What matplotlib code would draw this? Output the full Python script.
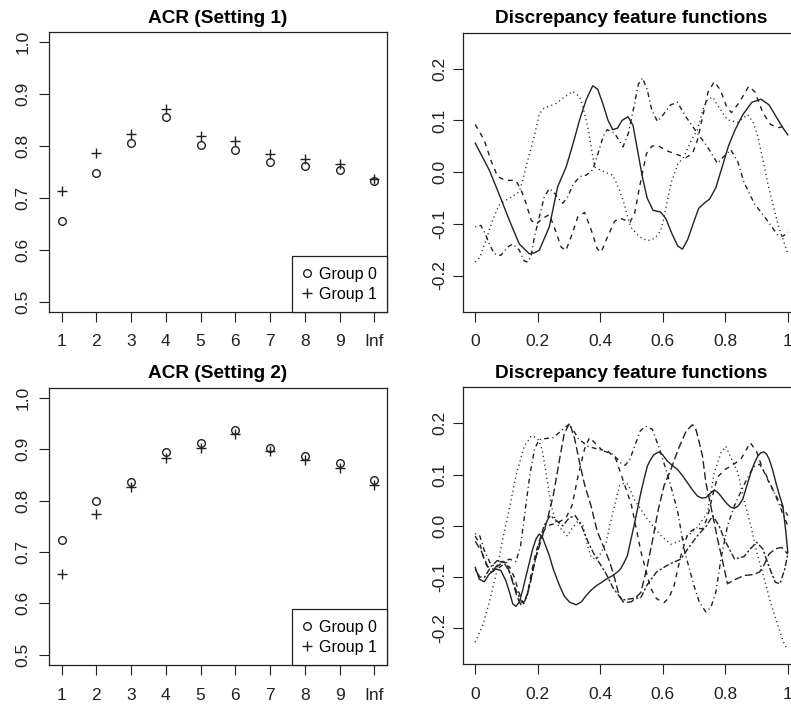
import numpy as np
import matplotlib
matplotlib.use("Agg")
import matplotlib.pyplot as plt

plt.rcParams['font.family'] = ['Liberation Sans', 'DejaVu Sans']

# ---- ACR panels ----
k_pos = list(range(1, 11))
k_labels = ['1', '2', '3', '4', '5', '6', '7', '8', '9', 'Inf']

acr1_g0 = [0.655, 0.749, 0.806, 0.856, 0.803, 0.793, 0.770, 0.761, 0.753, 0.732]
acr1_g1 = [0.713, 0.787, 0.824, 0.871, 0.819, 0.809, 0.785, 0.775, 0.765, 0.736]
acr2_g0 = [0.724, 0.799, 0.837, 0.894, 0.912, 0.938, 0.903, 0.887, 0.874, 0.840]
acr2_g1 = [0.658, 0.774, 0.826, 0.882, 0.902, 0.930, 0.896, 0.878, 0.864, 0.831]

# ---- discrepancy feature functions, setting 1 (x, y) ----
s1_solid = [(0, 0.056), (0.045, 0.004), (0.082, -0.051), (0.109, -0.093), (0.141, -0.139),
            (0.173, -0.158), (0.19, -0.156), (0.205, -0.151), (0.237, -0.106), (0.264, -0.028),
            (0.291, 0.01), (0.313, 0.055), (0.334, 0.101), (0.355, 0.14), (0.376, 0.167),
            (0.392, 0.16), (0.408, 0.133), (0.425, 0.1), (0.44, 0.082), (0.455, 0.085),
            (0.47, 0.1), (0.489, 0.107), (0.505, 0.09), (0.52, 0.04), (0.535, -0.01),
            (0.55, -0.05), (0.569, -0.074), (0.593, -0.077), (0.61, -0.09), (0.63, -0.12),
            (0.648, -0.143), (0.663, -0.149), (0.68, -0.13), (0.7, -0.095), (0.715, -0.07),
            (0.733, -0.06), (0.75, -0.052), (0.77, -0.03), (0.79, 0.01), (0.81, 0.05),
            (0.83, 0.08), (0.855, 0.11), (0.885, 0.135), (0.914, 0.141), (0.94, 0.13),
            (0.965, 0.105), (0.985, 0.085), (1.0, 0.072)]
s1_dashed = [(0, 0.092), (0.029, 0.062), (0.05, 0.023), (0.072, -0.009), (0.098, -0.016),
             (0.13, -0.016), (0.147, -0.035), (0.163, -0.061), (0.179, -0.093), (0.195, -0.101),
             (0.215, -0.09), (0.237, -0.082), (0.255, -0.11), (0.275, -0.145), (0.29, -0.152),
             (0.31, -0.12), (0.328, -0.087), (0.35, -0.078), (0.37, -0.11), (0.39, -0.148),
             (0.403, -0.155), (0.42, -0.13), (0.446, -0.095), (0.462, -0.089), (0.48, -0.093),
             (0.495, -0.097), (0.51, -0.08), (0.526, -0.028), (0.548, 0.036), (0.565, 0.05),
             (0.583, 0.052), (0.61, 0.042), (0.636, 0.036), (0.674, 0.028), (0.695, 0.036),
             (0.711, 0.062), (0.725, 0.1), (0.745, 0.155), (0.765, 0.175), (0.785, 0.158),
             (0.805, 0.125), (0.82, 0.115), (0.845, 0.135), (0.875, 0.166), (0.895, 0.155),
             (0.92, 0.115), (0.945, 0.092), (0.97, 0.086), (1.0, 0.09)]
s1_dotted = [(0, -0.174), (0.015, -0.165), (0.034, -0.132), (0.056, -0.093), (0.075, -0.065),
             (0.088, -0.058), (0.114, -0.049), (0.141, -0.038), (0.152, -0.016), (0.168, 0.023),
             (0.189, 0.069), (0.205, 0.112), (0.22, 0.124), (0.24, 0.128), (0.259, 0.133),
             (0.285, 0.145), (0.312, 0.156), (0.334, 0.146), (0.347, 0.12), (0.36, 0.088),
             (0.372, 0.045), (0.382, 0.01), (0.4, 0.004), (0.419, -0.001), (0.44, -0.006),
             (0.455, -0.025), (0.473, -0.054), (0.497, -0.106), (0.525, -0.125), (0.551, -0.133),
             (0.575, -0.128), (0.594, -0.113), (0.61, -0.07), (0.626, -0.022), (0.648, 0.015),
             (0.668, 0.03), (0.69, 0.06), (0.711, 0.082), (0.728, 0.12), (0.743, 0.14),
             (0.76, 0.145), (0.78, 0.125), (0.807, 0.101), (0.839, 0.096), (0.872, 0.111),
             (0.89, 0.095), (0.904, 0.069), (0.92, 0.025), (0.936, -0.022), (0.968, -0.1),
             (1.0, -0.158)]
s1_dotdash = [(0, -0.106), (0.018, -0.103), (0.034, -0.122), (0.045, -0.139), (0.061, -0.158),
              (0.082, -0.161), (0.104, -0.145), (0.12, -0.139), (0.141, -0.151), (0.157, -0.172),
              (0.168, -0.174), (0.179, -0.162), (0.189, -0.126), (0.205, -0.087), (0.221, -0.048),
              (0.237, -0.032), (0.25, -0.038), (0.265, -0.05), (0.28, -0.06), (0.296, -0.048),
              (0.312, -0.025), (0.334, -0.009), (0.355, -0.006), (0.376, 0.004), (0.395, 0.04),
              (0.41, 0.07), (0.422, 0.082), (0.446, 0.075), (0.473, 0.049), (0.49, 0.075),
              (0.508, 0.127), (0.522, 0.17), (0.535, 0.182), (0.55, 0.16), (0.565, 0.12),
              (0.583, 0.098), (0.6, 0.11), (0.625, 0.13), (0.647, 0.135), (0.674, 0.107),
              (0.711, 0.075), (0.743, 0.049), (0.775, 0.017), (0.795, 0.03), (0.818, 0.043),
              (0.84, 0.02), (0.86, -0.02), (0.893, -0.061), (0.93, -0.09), (0.968, -0.122),
              (0.985, -0.124), (1.0, -0.116)]

# ---- discrepancy feature functions, setting 2 (x, y) ----
s2_solid = [(0, -0.081), (0.013, -0.104), (0.029, -0.109), (0.045, -0.094), (0.066, -0.084),
            (0.082, -0.087), (0.098, -0.107), (0.11, -0.13), (0.12, -0.152), (0.13, -0.157),
            (0.141, -0.149), (0.152, -0.125), (0.163, -0.097), (0.174, -0.07), (0.184, -0.045),
            (0.195, -0.025), (0.205, -0.016), (0.215, -0.022), (0.226, -0.04), (0.237, -0.058),
            (0.25, -0.085), (0.27, -0.117), (0.285, -0.137), (0.302, -0.149), (0.323, -0.154),
            (0.34, -0.148), (0.355, -0.136), (0.37, -0.126), (0.387, -0.117), (0.405, -0.11),
            (0.419, -0.104), (0.44, -0.097), (0.455, -0.09), (0.465, -0.084), (0.476, -0.072),
            (0.487, -0.058), (0.497, -0.03), (0.508, 0.0), (0.52, 0.035), (0.53, 0.065),
            (0.541, 0.093), (0.551, 0.117), (0.562, 0.13), (0.572, 0.139), (0.588, 0.144),
            (0.6, 0.138), (0.615, 0.126), (0.63, 0.118), (0.647, 0.11), (0.663, 0.098),
            (0.679, 0.084), (0.695, 0.07), (0.711, 0.058), (0.725, 0.054), (0.738, 0.055),
            (0.752, 0.063), (0.765, 0.07), (0.776, 0.065), (0.786, 0.058), (0.797, 0.049),
            (0.807, 0.042), (0.818, 0.036), (0.829, 0.034), (0.842, 0.039), (0.856, 0.052),
            (0.87, 0.08), (0.882, 0.104), (0.893, 0.122), (0.904, 0.136), (0.913, 0.142),
            (0.923, 0.144), (0.932, 0.14), (0.941, 0.129), (0.952, 0.108), (0.962, 0.084),
            (0.973, 0.06), (0.984, 0.039), (0.994, -0.013), (1.0, -0.052)]
s2_dotted = [(0, -0.227), (0.024, -0.194), (0.045, -0.149), (0.066, -0.097), (0.088, -0.026),
             (0.109, 0.032), (0.13, 0.097), (0.157, 0.155), (0.179, 0.175), (0.195, 0.172),
             (0.205, 0.165), (0.215, 0.145), (0.225, 0.11), (0.235, 0.07), (0.245, 0.035),
             (0.259, 0.006), (0.28, -0.01), (0.295, -0.02), (0.31, -0.005), (0.33, 0.01),
             (0.345, 0.0), (0.36, -0.04), (0.371, -0.062), (0.385, -0.065), (0.398, -0.058),
             (0.419, -0.032), (0.435, 0.013), (0.451, 0.052), (0.462, 0.078), (0.478, 0.084),
             (0.49, 0.08), (0.508, 0.052), (0.551, 0.013), (0.594, -0.019), (0.626, -0.036),
             (0.668, -0.026), (0.711, -0.003), (0.743, 0.026), (0.765, 0.104), (0.786, 0.142),
             (0.802, 0.155), (0.82, 0.13), (0.84, 0.104), (0.86, 0.05), (0.882, 0.0),
             (0.9, -0.05), (0.925, -0.104), (0.945, -0.15), (0.968, -0.194), (0.99, -0.233),
             (1.0, -0.24)]
s2_longdash = [(0, -0.03), (0.02, -0.05), (0.04, -0.08), (0.06, -0.085), (0.08, -0.07),
               (0.1, -0.072), (0.12, -0.11), (0.135, -0.14), (0.147, -0.155), (0.16, -0.145),
               (0.175, -0.115), (0.19, -0.07), (0.21, -0.03), (0.23, 0.01), (0.25, 0.06),
               (0.27, 0.13), (0.285, 0.18), (0.302, 0.2), (0.318, 0.17), (0.335, 0.12),
               (0.35, 0.08), (0.37, 0.04), (0.39, -0.01), (0.41, -0.04), (0.43, -0.07),
               (0.445, -0.1), (0.46, -0.135), (0.475, -0.15), (0.5, -0.148), (0.53, -0.13),
               (0.55, -0.08), (0.57, -0.02), (0.585, 0.03), (0.604, 0.078), (0.626, 0.11),
               (0.65, 0.15), (0.675, 0.185), (0.695, 0.197), (0.706, 0.188), (0.717, 0.162),
               (0.727, 0.136), (0.738, 0.084), (0.749, 0.052), (0.76, 0.02), (0.775, -0.025),
               (0.79, -0.065), (0.807, -0.113), (0.83, -0.105), (0.86, -0.097), (0.89, -0.095),
               (0.91, -0.09), (0.925, -0.075), (0.94, -0.055), (0.96, -0.045), (0.98, -0.042),
               (1.0, -0.055)]
s2_dashed = [(0, -0.02), (0.015, -0.035), (0.03, -0.07), (0.05, -0.09), (0.07, -0.085),
             (0.09, -0.075), (0.11, -0.08), (0.125, -0.1), (0.14, -0.13), (0.155, -0.152),
             (0.168, -0.13), (0.18, -0.09), (0.195, -0.05), (0.21, -0.02), (0.23, 0.0),
             (0.26, 0.005), (0.29, 0.015), (0.31, 0.04), (0.33, 0.1), (0.35, 0.15),
             (0.366, 0.172), (0.385, 0.16), (0.405, 0.148), (0.425, 0.145), (0.45, 0.13),
             (0.475, 0.085), (0.5, 0.04), (0.53, -0.05), (0.56, -0.12), (0.58, -0.142),
             (0.604, -0.15), (0.62, -0.14), (0.636, -0.117), (0.658, -0.058), (0.68, -0.015),
             (0.706, -0.004), (0.727, -0.006), (0.743, 0.016), (0.76, 0.06), (0.775, 0.095),
             (0.8, 0.11), (0.82, 0.117), (0.85, 0.13), (0.88, 0.162), (0.9, 0.145),
             (0.92, 0.11), (0.945, 0.078), (0.97, 0.05), (1.0, 0.02)]
s2_dotdash = [(0, -0.015), (0.015, -0.02), (0.03, -0.05), (0.05, -0.075), (0.07, -0.08),
              (0.09, -0.07), (0.11, -0.065), (0.13, -0.07), (0.145, -0.04), (0.16, 0.03),
              (0.175, 0.1), (0.19, 0.15), (0.205, 0.168), (0.225, 0.17), (0.25, 0.172),
              (0.275, 0.185), (0.3, 0.198), (0.315, 0.185), (0.33, 0.17), (0.36, 0.155),
              (0.4, 0.148), (0.44, 0.14), (0.465, 0.123), (0.48, 0.118), (0.495, 0.13),
              (0.51, 0.155), (0.528, 0.185), (0.545, 0.194), (0.567, 0.188), (0.594, 0.142),
              (0.62, 0.09), (0.647, 0.03), (0.67, -0.05), (0.7, -0.117), (0.717, -0.149),
              (0.738, -0.168), (0.754, -0.159), (0.77, -0.129), (0.786, -0.065), (0.807, 0.0),
              (0.83, 0.04), (0.86, 0.08), (0.89, 0.115), (0.91, 0.12), (0.93, 0.1),
              (0.96, 0.06), (0.98, 0.03), (1.0, 0.0)]
s2_twodash = [(0, -0.085), (0.015, -0.1), (0.03, -0.1), (0.05, -0.08), (0.07, -0.068),
              (0.09, -0.07), (0.11, -0.09), (0.13, -0.125), (0.15, -0.15), (0.165, -0.14),
              (0.18, -0.1), (0.2, -0.045), (0.22, 0.0), (0.24, 0.02), (0.26, 0.01),
              (0.28, 0.0), (0.3, 0.015), (0.32, 0.02), (0.34, 0.0), (0.36, -0.03),
              (0.38, -0.055), (0.4, -0.075), (0.42, -0.095), (0.44, -0.12), (0.47, -0.145),
              (0.5, -0.142), (0.53, -0.14), (0.55, -0.115), (0.58, -0.09), (0.62, -0.075),
              (0.658, -0.065), (0.68, -0.045), (0.71, -0.02), (0.74, 0.0), (0.76, 0.02),
              (0.78, 0.0), (0.8, -0.03), (0.83, -0.065), (0.86, -0.06), (0.88, -0.045),
              (0.9, -0.032), (0.92, -0.045), (0.94, -0.08), (0.96, -0.11), (0.975, -0.113),
              (0.99, -0.085), (1.0, -0.055)]

f_xticks = [0, 0.2, 0.4, 0.6, 0.8, 1.0]
f_xlabels = ['0', '0.2', '0.4', '0.6', '0.8', '1']
f_yticks = [-0.2, -0.1, 0.0, 0.1, 0.2]
f_ylabels = ['-0.2', '-0.1', '0.0', '0.1', '0.2']

INK = '#222222'
W, H = 791, 704
fig = plt.figure(figsize=(W / 100, H / 100), dpi=100, facecolor='white')


def add_px_axes(left, top, right, bottom):
    return fig.add_axes([left / W, 1 - bottom / H, (right - left) / W, (bottom - top) / H])


def r_style(ax, title, ypad):
    for sp in ax.spines.values():
        sp.set_linewidth(0.9)
        sp.set_color(INK)
    ax.tick_params(direction='out', length=7, width=0.8, colors=INK, labelsize=12.5)
    ax.tick_params(axis='x', pad=9.2)
    ax.tick_params(axis='y', pad=ypad, labelrotation=90)
    for lab in ax.get_yticklabels():
        lab.set_va('center')
    ax.set_title(title, fontsize=13.7, fontweight='bold', pad=6.5, color='black')


def acr_panel(ax, g0, g1, title):
    ax.plot(k_pos, g0, 'o', mfc='none', mec=INK, ms=5.5, mew=1.0, label='Group 0')
    ax.plot(k_pos, g1, '+', color=INK, ms=6.8, mew=1.0, label='Group 1')
    ax.set_xlim(0.64, 10.36)
    ax.set_ylim(0.48, 1.02)
    ax.set_xticks(k_pos, labels=k_labels)
    ax.set_yticks([0.5, 0.6, 0.7, 0.8, 0.9, 1.0], labels=['0.5', '0.6', '0.7', '0.8', '0.9', '1.0'])
    r_style(ax, title, 6.5)
    leg = ax.legend(loc='lower right', borderaxespad=0, fancybox=False, edgecolor=INK,
                    framealpha=1, fontsize=11.5, handlelength=0.6, handletextpad=0.45,
                    borderpad=0.65, labelspacing=0.3)
    leg.get_frame().set_linewidth(0.9)


def curve_panel(ax, curves, title):
    for pts, dash in curves:
        arr = np.array(pts)
        if dash is None:
            ax.plot(arr[:, 0], arr[:, 1], color=INK, lw=1.0, ls='-')
        else:
            ax.plot(arr[:, 0], arr[:, 1], color=INK, lw=1.0, dashes=dash)
    ax.set_xlim(-0.04, 1.04)
    ax.set_ylim(-0.27, 0.27)
    ax.set_xticks(f_xticks, labels=f_xlabels)
    ax.set_yticks(f_yticks, labels=f_ylabels)
    r_style(ax, title, 4.3)


DASHED = (3.5, 3.5)
DOTTED = (0.8, 2.4)
DOTDASH = (0.8, 2.4, 3.5, 2.4)
LONGDASH = (5.5, 2.5)
TWODASH = (1.6, 1.6, 4.5, 1.6)

ax1 = add_px_axes(49, 32, 387, 312)
acr_panel(ax1, acr1_g0, acr1_g1, 'ACR (Setting 1)')

ax3 = add_px_axes(49, 387.5, 387, 665)
acr_panel(ax3, acr2_g0, acr2_g1, 'ACR (Setting 2)')

ax2 = add_px_axes(462.7, 32.5, 800.3, 311.7)
curve_panel(ax2, [(s1_solid, None), (s1_dashed, DASHED), (s1_dotted, DOTTED),
                  (s1_dotdash, DOTDASH)], 'Discrepancy feature functions')

ax4 = add_px_axes(462.7, 387.3, 800.3, 664.3)
curve_panel(ax4, [(s2_solid, None), (s2_dashed, DASHED), (s2_dotted, DOTTED),
                  (s2_dotdash, DOTDASH), (s2_longdash, LONGDASH), (s2_twodash, TWODASH)],
            'Discrepancy feature functions')

fig.savefig('out.png', dpi=100, facecolor='white')
